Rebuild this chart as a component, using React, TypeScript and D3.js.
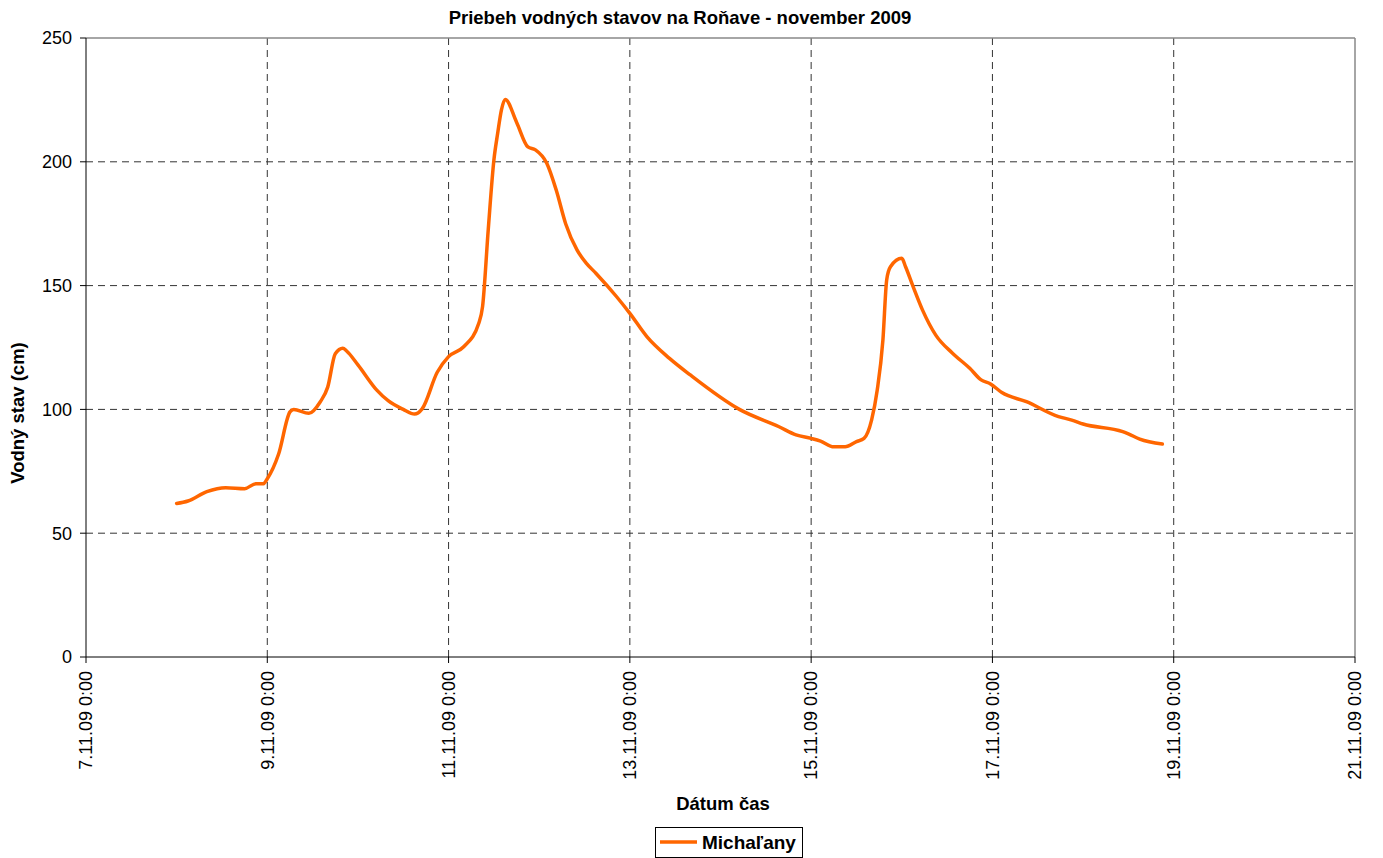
import React from "react";
import * as d3 from "d3";

const times: string[] = [
  "2009-11-08T00:00", "2009-11-08T03:00", "2009-11-08T08:00", "2009-11-08T13:00", "2009-11-08T18:00",
  "2009-11-08T21:00", "2009-11-08T23:00", "2009-11-09T00:00", "2009-11-09T03:00", "2009-11-09T06:00",
  "2009-11-09T07:00", "2009-11-09T11:00", "2009-11-09T14:00", "2009-11-09T16:00", "2009-11-09T18:00",
  "2009-11-09T20:00", "2009-11-09T21:00", "2009-11-10T00:00", "2009-11-10T05:00", "2009-11-10T08:00",
  "2009-11-10T12:00", "2009-11-10T15:00", "2009-11-10T17:00", "2009-11-10T21:00", "2009-11-11T00:00",
  "2009-11-11T04:00", "2009-11-11T08:00", "2009-11-11T09:00", "2009-11-11T10:30", "2009-11-11T12:00",
  "2009-11-11T13:00", "2009-11-11T14:00", "2009-11-11T15:00", "2009-11-11T18:00", "2009-11-11T21:00",
  "2009-11-11T23:00", "2009-11-12T02:00", "2009-11-12T04:30", "2009-11-12T07:00", "2009-11-12T10:00",
  "2009-11-12T12:30", "2009-11-12T15:00", "2009-11-12T20:30", "2009-11-13T00:00", "2009-11-13T04:30",
  "2009-11-13T10:30", "2009-11-13T16:00", "2009-11-14T05:00", "2009-11-14T15:30", "2009-11-14T20:00",
  "2009-11-15T00:00", "2009-11-15T02:30", "2009-11-15T06:00", "2009-11-15T09:00", "2009-11-15T12:00",
  "2009-11-15T14:00", "2009-11-15T16:00", "2009-11-15T17:30", "2009-11-15T19:00", "2009-11-15T20:00",
  "2009-11-15T21:00", "2009-11-16T00:00", "2009-11-16T01:00", "2009-11-16T03:00", "2009-11-16T05:30",
  "2009-11-16T09:00", "2009-11-16T13:30", "2009-11-16T18:00", "2009-11-16T21:00", "2009-11-16T23:30",
  "2009-11-17T02:30", "2009-11-17T09:00", "2009-11-17T17:30", "2009-11-17T21:00", "2009-11-18T00:00",
  "2009-11-18T10:30", "2009-11-18T12:00", "2009-11-18T15:00", "2009-11-18T21:00",
];

const levels: number[] = [
  62, 63, 66.8, 68.4, 68,
  70, 70, 72, 82, 99,
  100, 98.4, 103, 109, 122.5,
  124.7, 123.6, 118, 107.8, 103.5,
  100, 98.1, 100.2, 115, 121.3,
  125.3, 134.8, 141.5, 172.5, 200.7,
  211.5, 221, 225.2, 216, 206,
  204.8, 199.4, 188.6, 175, 164.4,
  159, 155, 145.5, 138.8, 129.4,
  120.6, 113.9, 100, 93, 89.7,
  88.3, 87.2, 84.9, 84.9, 87,
  88.3, 95.7, 107.8, 128, 152.3,
  157.6, 161, 157.6, 149.6, 140.1,
  130, 122.6, 116.6, 111.9, 110.3,
  106.8, 103.1, 97.1, 95.7, 94.1,
  91, 90.1, 88, 86,
];

const xTickDates: string[] = [
  "2009-11-07T00:00", "2009-11-09T00:00", "2009-11-11T00:00", "2009-11-13T00:00",
  "2009-11-15T00:00", "2009-11-17T00:00", "2009-11-19T00:00", "2009-11-21T00:00",
];
const yTicks: number[] = [0, 50, 100, 150, 200, 250];

const seriesName = "Michaľany";
const title = "Priebeh vodných stavov na Roňave - november 2009";
const xTitle = "Dátum čas";
const yTitle = "Vodný stav (cm)";

export default function App() {
  const W = 1383, H = 858;
  const L = 86, R = 1355, T = 38, B = 657;
  const font = "'Liberation Sans', Arial, sans-serif";
  const parse = (s: string) => new Date(s);
  const x = d3.scaleTime()
    .domain([parse(xTickDates[0]), parse(xTickDates[xTickDates.length - 1])])
    .range([L, R]);
  const y = d3.scaleLinear().domain([0, 250]).range([B, T]);
  const pts = times.map((t, i) => [parse(t), levels[i]] as [Date, number]);
  const line = d3.line<[Date, number]>()
    .x((d) => x(d[0]))
    .y((d) => y(d[1]))
    .curve(d3.curveMonotoneX);
  const fmt = (d: Date) => `${d.getDate()}.${d.getMonth() + 1}.09 0:00`;

  return (
    <svg width={W} height={H} style={{ position: "absolute", left: 0, top: 0, background: "#fff" }} fontFamily={font}>
      <rect x={0} y={0} width={W} height={H} fill="#fff" />
      {yTicks.filter((v) => v > 0 && v < 250).map((v) => (
        <line key={"hg" + v} x1={L} x2={R} y1={y(v)} y2={y(v)} stroke="#333" strokeWidth={1} strokeDasharray="7,5" />
      ))}
      {xTickDates.slice(1, -1).map((s) => (
        <line key={"vg" + s} x1={x(parse(s))} x2={x(parse(s))} y1={T} y2={B} stroke="#333" strokeWidth={1} strokeDasharray="7,5" />
      ))}
      <line x1={L} x2={R} y1={T} y2={T} stroke="#888" strokeWidth={1.5} />
      <line x1={R} x2={R} y1={T} y2={B} stroke="#888" strokeWidth={1.5} />
      <line x1={L} x2={L} y1={T} y2={B} stroke="#000" strokeWidth={1} />
      <line x1={L} x2={R} y1={B} y2={B} stroke="#000" strokeWidth={1} />
      {yTicks.map((v) => (
        <g key={"yt" + v}>
          <line x1={L - 6} x2={L} y1={y(v)} y2={y(v)} stroke="#000" />
          <text x={L - 14} y={y(v)} dy="0.35em" textAnchor="end" fontSize={18}>{v}</text>
        </g>
      ))}
      {xTickDates.map((s) => {
        const px = x(parse(s));
        return (
          <g key={"xt" + s}>
            <line x1={px} x2={px} y1={B} y2={B + 6} stroke="#000" />
            <text transform={`translate(${px},${B + 14}) rotate(-90)`} dy="0.35em" textAnchor="end" fontSize={18}>
              {fmt(parse(s))}
            </text>
          </g>
        );
      })}
      <path d={line(pts) || ""} fill="none" stroke="#FF6600" strokeWidth={3.5} strokeLinejoin="round" strokeLinecap="round" />
      <text x={680} y={24} textAnchor="middle" fontSize={18.5} fontWeight="bold">{title}</text>
      <text x={723} y={810} textAnchor="middle" fontSize={18.5} fontWeight="bold">{xTitle}</text>
      <text transform={`translate(24,413) rotate(-90)`} textAnchor="middle" fontSize={18.5} fontWeight="bold">{yTitle}</text>
      <rect x={655.5} y={827.5} width={147} height={30} fill="#fff" stroke="#000" strokeWidth={1} />
      <line x1={660} x2={697} y1={842} y2={842} stroke="#FF6600" strokeWidth={3.5} />
      <text x={702} y={849} fontSize={19} fontWeight="bold">{seriesName}</text>
    </svg>
  );
}
